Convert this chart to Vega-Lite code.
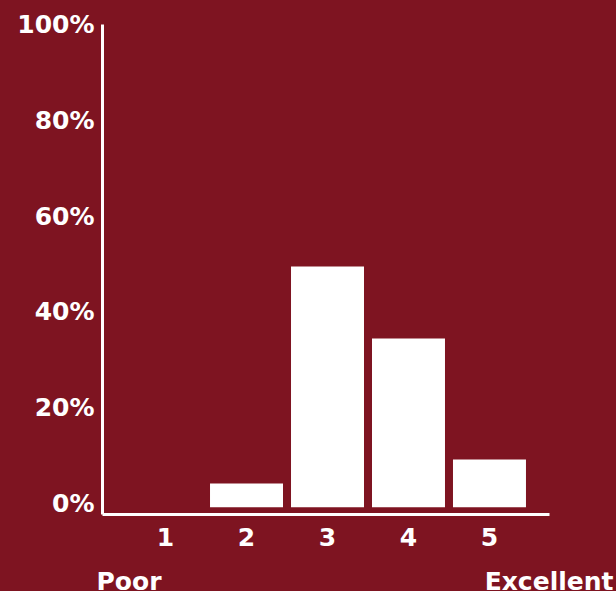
{
  "$schema": "https://vega.github.io/schema/vega-lite/v6.json",
  "width": 447,
  "height": 490,
  "autosize": {"type": "none"},
  "padding": {"left": 102, "top": 24, "right": 67, "bottom": 77},
  "background": "#7E1421",
  "config": {
    "view": {"stroke": null},
    "font": "DejaVu Sans",
    "axis": {
      "domainColor": "#ffffff",
      "domainWidth": 3,
      "ticks": false,
      "grid": false,
      "labelColor": "#ffffff",
      "labelFont": "DejaVu Sans",
      "labelFontWeight": "bold",
      "labelFontSize": 25,
      "title": null
    }
  },
  "datasets": {
    "ratings": [
      {"rating": "1", "share": 0},
      {"rating": "2", "share": 5},
      {"rating": "3", "share": 50.3},
      {"rating": "4", "share": 35.3},
      {"rating": "5", "share": 10}
    ]
  },
  "layer": [
    {
      "data": {"name": "ratings"},
      "mark": {"type": "bar", "color": "#ffffff"},
      "encoding": {
        "x": {
          "field": "rating",
          "type": "ordinal",
          "scale": {"paddingInner": 0.0988, "paddingOuter": 0.309, "align": 0.54},
          "axis": {"labelAngle": 0, "labelPadding": 11, "labelBaseline": "top"}
        },
        "y": {
          "field": "share",
          "type": "quantitative",
          "scale": {"domain": [-1.4, 101], "nice": false, "zero": false},
          "axis": {
            "values": [0, 20, 40, 60, 80, 100],
            "labelExpr": "datum.value + '%'",
            "labelPadding": 8,
            "labelOffset": -4
          }
        },
        "y2": {"datum": 0}
      }
    },
    {
      "data": {"values": [{"end": "Poor"}]},
      "mark": {"type": "text", "color": "#ffffff", "font": "DejaVu Sans", "fontWeight": "bold", "fontSize": 25, "align": "left", "baseline": "alphabetic", "dx": -69, "dy": 76},
      "encoding": {
        "x": {"datum": "1", "type": "ordinal"},
        "y": {"datum": -1.4, "type": "quantitative"},
        "text": {"field": "end"}
      }
    },
    {
      "data": {"values": [{"end": "Excellent"}]},
      "mark": {"type": "text", "color": "#ffffff", "font": "DejaVu Sans", "fontWeight": "bold", "fontSize": 25, "align": "right", "baseline": "alphabetic", "dx": 124, "dy": 76},
      "encoding": {
        "x": {"datum": "5", "type": "ordinal"},
        "y": {"datum": -1.4, "type": "quantitative"},
        "text": {"field": "end"}
      }
    }
  ]
}
